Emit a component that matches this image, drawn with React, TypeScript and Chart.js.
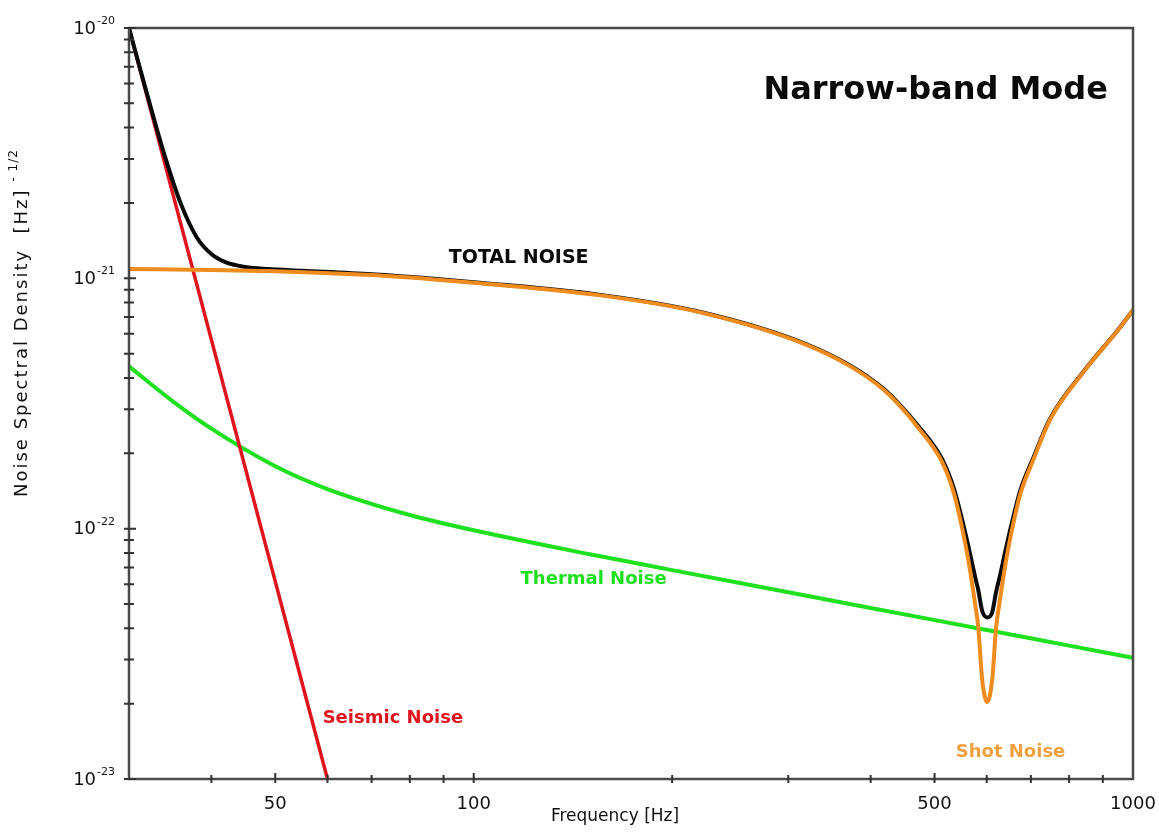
import React, { useEffect, useRef } from "react";
import { Chart, registerables } from "chart.js";

Chart.register(...registerables);

// Seismic noise: a straight power law on the log-log axes
const seismicFreq = [30, 60];
const seismicNoise = [1e-20, 1e-23];

// Thermal noise (pendulum + mirror contributions)
const thermalFreq = [30, 35, 40, 50, 60, 80, 100, 150, 200, 300, 400, 600, 800, 1000];
const thermalNoise = [4.45e-22, 3.22e-22, 2.51e-22, 1.777e-22, 1.44e-22, 1.134e-22, 9.85e-23, 7.9e-23, 6.83e-23, 5.57e-23, 4.82e-23, 3.94e-23, 3.41e-23, 3.05e-23];

// Shot noise with the narrow-band signal-recycling dip near 600 Hz
const shotFreq = [30, 40, 48.7, 70, 87, 100, 155.7, 220.8, 312.9, 372.7, 418.1, 443.8, 470.7, 513.7, 535.7, 550.8, 562.5, 576.4, 582.4, 590.6, 601, 611.5, 620.1, 626.7, 642.2, 655.8, 674.3, 706.3, 748.8, 840.2, 945.8, 1000];
const shotNoise = [1.09e-21, 1.08e-21, 1.07e-21, 1.03e-21, 9.9e-22, 9.6e-22, 8.55e-22, 7.31e-22, 5.55e-22, 4.45e-22, 3.6e-22, 3.08e-22, 2.56e-22, 1.84e-22, 1.368e-22, 1.0e-22, 7.52e-23, 4.97e-23, 4.06e-23, 2.49e-23, 2.03e-23, 2.49e-23, 4.06e-23, 4.97e-23, 7.52e-23, 1.0e-22, 1.368e-22, 1.89e-22, 2.73e-22, 4.21e-22, 6.15e-22, 7.45e-22];

// Total noise
const totalFreq = [30, 32, 34, 36, 38, 40, 42, 45, 48.7, 55, 70, 87, 100, 155.7, 220.8, 312.9, 372.7, 418.1, 443.8, 470.7, 513.7, 535.7, 550.8, 562.5, 576.4, 582.4, 590.6, 601, 611.5, 620.1, 626.7, 642.2, 655.8, 674.3, 706.3, 748.8, 840.2, 945.8, 1000];
const totalNoise = [1.0e-20, 5.37e-21, 3.08e-21, 1.97e-21, 1.46e-21, 1.25e-21, 1.16e-21, 1.11e-21, 1.089e-21, 1.072e-21, 1.038e-21, 9.96e-22, 9.65e-22, 8.59e-22, 7.34e-22, 5.58e-22, 4.48e-22, 3.63e-22, 3.11e-22, 2.6e-22, 1.89e-22, 1.43e-22, 1.081e-22, 8.55e-23, 6.39e-23, 5.7e-23, 4.69e-23, 4.42e-23, 4.63e-23, 5.61e-23, 6.29e-23, 8.43e-23, 1.068e-22, 1.417e-22, 1.925e-22, 2.753e-22, 4.223e-22, 6.158e-22, 7.456e-22];

// Axis ticks
const xTickValues = [30, 40, 50, 60, 70, 80, 90, 100, 200, 300, 400, 500, 600, 700, 800, 900, 1000];
const xLabelValues = [50, 100, 500, 1000];
const xLabelText = ["50", "100", "500", "1000"];
const yMantissas = [1, 2, 3, 4, 5, 6, 7, 8, 9];
const yDecades = [-23, -22, -21];
const yLabelValues = [1e-23, 1e-22, 1e-21, 1e-20];
const yLabelBase = ["10", "10", "10", "10"];
const yLabelExponent = ["-23", "-22", "-21", "-20"];

// In-plot annotations, anchored at (frequency, level)
const noteText = ["Narrow-band Mode", "TOTAL NOISE", "Thermal Noise", "Seismic Noise", "Shot Noise"];
const noteFreq = [502, 117, 152, 75.4, 652];
const noteLevel = [5.6e-21, 1.21e-21, 6.25e-23, 1.75e-23, 1.28e-23];

const RED = "#e0141e";
const GREEN = "#1ee01e";
const ORANGE = "#f08c1e";
const BLACK = "#0a0a0a";
const FONT = '"DejaVu Sans"';

const yTickValues: number[] = [];
yDecades.forEach((d) => yMantissas.forEach((m) => yTickValues.push(m * Math.pow(10, d))));
yTickValues.push(1e-20);

const sameLog = (a: number, b: number) => Math.abs(Math.log10(a) - Math.log10(b)) < 1e-6;
const indexIn = (v: number, values: number[]) => values.findIndex((t) => sameLog(v, t));

const points = (xs: number[], ys: number[]) => xs.map((x, i) => ({ x, y: ys[i] }));

const noteStyle = [
  { font: `bold 32px ${FONT}`, color: BLACK },
  { font: `bold 19px ${FONT}`, color: BLACK },
  { font: `bold 18px ${FONT}`, color: GREEN },
  { font: `bold 18px ${FONT}`, color: RED },
  { font: `bold 18px ${FONT}`, color: "#f0a040" },
];

const decorPlugin = {
  id: "decor",
  afterDraw(chart: any) {
    const { ctx, chartArea: a } = chart;
    const xs = chart.scales.x;
    const ys = chart.scales.y;
    ctx.save();

    // frame
    ctx.strokeStyle = "#4a4a4a";
    ctx.lineWidth = 2.5;
    ctx.strokeRect(a.left, a.top, a.right - a.left, a.bottom - a.top);

    // tick marks crossing the axes
    ctx.strokeStyle = "#333";
    ctx.lineWidth = 2;
    ctx.beginPath();
    xTickValues.forEach((v) => {
      if (v === xs.min || v === xs.max) return;
      const px = xs.getPixelForValue(v);
      const major = indexIn(v, xLabelValues) >= 0;
      ctx.moveTo(px, a.bottom - (major ? 6 : 4));
      ctx.lineTo(px, a.bottom + 4);
    });
    yTickValues.forEach((v) => {
      const py = ys.getPixelForValue(v);
      const major = indexIn(v, yLabelValues) >= 0;
      ctx.moveTo(a.left - 5, py);
      ctx.lineTo(a.left + (major ? 7 : 5), py);
    });
    ctx.stroke();

    // tick labels
    ctx.fillStyle = "#111";
    ctx.textBaseline = "middle";
    ctx.textAlign = "center";
    ctx.font = `18px ${FONT}`;
    xLabelValues.forEach((v, i) => {
      ctx.fillText(xLabelText[i], xs.getPixelForValue(v), a.bottom + 25);
    });
    yLabelValues.forEach((v, i) => {
      const py = ys.getPixelForValue(v);
      const right = a.left - 14;
      ctx.textAlign = "right";
      ctx.font = `11px ${FONT}`;
      const ew = ctx.measureText(yLabelExponent[i]).width;
      ctx.fillText(yLabelExponent[i], right, py - 7);
      ctx.font = `18px ${FONT}`;
      ctx.fillText(yLabelBase[i], right - ew - 1, py + 1);
    });

    // annotations
    ctx.textAlign = "center";
    noteText.forEach((t, i) => {
      ctx.font = noteStyle[i].font;
      ctx.fillStyle = noteStyle[i].color;
      ctx.fillText(t, xs.getPixelForValue(noteFreq[i]), ys.getPixelForValue(noteLevel[i]));
    });

    // x axis title
    ctx.fillStyle = "#111";
    ctx.font = `17px ${FONT}`;
    ctx.fillText("Frequency [Hz]", (a.left + a.right) / 2 - 16, a.bottom + 38);

    // y axis title with superscript exponent
    ctx.save();
    ctx.translate(22, a.bottom - 282);
    ctx.rotate(-Math.PI / 2);
    ctx.textAlign = "left";
    ctx.textBaseline = "middle";
    ctx.font = `18px ${FONT}`;
    try { (ctx as any).letterSpacing = "2px"; } catch (e) {}
    const main = "Noise Spectral Density  [Hz]";
    ctx.fillText(main, 0, 0);
    const w = ctx.measureText(main).width;
    ctx.font = `12px ${FONT}`;
    try { (ctx as any).letterSpacing = "1px"; } catch (e) {}
    ctx.fillText(" - 1/2", w + 2, -8);
    ctx.restore();

    ctx.restore();
  },
};

export default function App() {
  const ref = useRef<HTMLCanvasElement | null>(null);

  useEffect(() => {
    if (!ref.current) return;
    const chart = new Chart(ref.current, {
      type: "line",
      data: {
        datasets: [
          { label: "Shot Noise", data: points(shotFreq, shotNoise), borderColor: ORANGE, borderWidth: 4, order: 0, cubicInterpolationMode: "monotone" },
          { label: "Total Noise", data: points(totalFreq, totalNoise), borderColor: BLACK, borderWidth: 4, order: 1, cubicInterpolationMode: "monotone" },
          { label: "Seismic Noise", data: points(seismicFreq, seismicNoise), borderColor: RED, borderWidth: 3.5, order: 2 },
          { label: "Thermal Noise", data: points(thermalFreq, thermalNoise), borderColor: GREEN, borderWidth: 4, order: 3, cubicInterpolationMode: "monotone" },
        ],
      },
      options: {
        animation: false,
        responsive: false,
        maintainAspectRatio: false,
        parsing: false,
        layout: { padding: { top: 28, right: 26, left: 0, bottom: 0 } },
        elements: { point: { radius: 0 }, line: { fill: false, borderCapStyle: "round", borderJoinStyle: "round" } },
        plugins: { legend: { display: false }, tooltip: { enabled: false }, title: { display: false } },
        scales: {
          x: {
            type: "logarithmic",
            min: 30,
            max: 1000,
            afterFit: (s: any) => { s.height = 53; },
            grid: { display: false, drawTicks: false },
            border: { display: false },
            ticks: { display: false },
          },
          y: {
            type: "logarithmic",
            min: 1e-23,
            max: 1e-20,
            afterFit: (s: any) => { s.width = 129; },
            grid: { display: false, drawTicks: false },
            border: { display: false },
            ticks: { display: false },
          },
        },
      },
      plugins: [decorPlugin],
    } as any);
    return () => chart.destroy();
  }, []);

  return (
    <div style={{ position: "fixed", left: 0, top: 0, width: 1159, height: 832, background: "#fff" }}>
      <canvas ref={ref} width={1159} height={832} style={{ display: "block", width: 1159, height: 832 }} />
    </div>
  );
}
